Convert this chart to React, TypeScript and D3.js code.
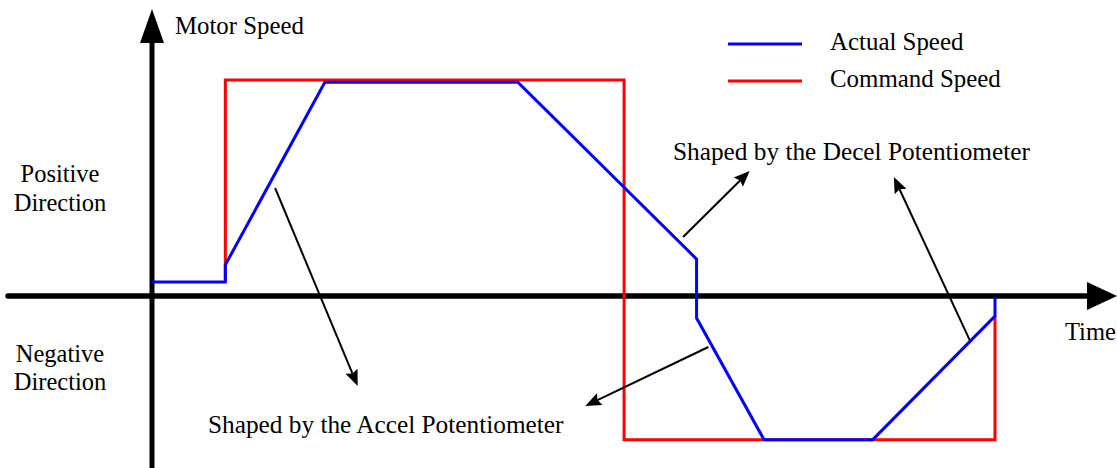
import React from "react";
import * as d3 from "d3";

// Time axis (arbitrary units) and speed (% of command speed)
const actualTime = [0, 8.7, 8.7, 20.5, 43.4, 64.6, 64.6, 72.6, 85.5, 100, 100];
const actualSpeed = [6.5, 6.5, 14.4, 99, 99, 17.1, -10.2, -66.5, -66.5, -9.3, -0.5];
const commandTime = [8.7, 8.7, 56.0, 56.0, 100, 100];
const commandSpeed = [6.5, 100, 100, -66.5, -66.5, -9.3];

const legendLabels = ["Actual Speed", "Command Speed"];
const legendColors = ["#0000ff", "#ff0000"];

// annotation arrows: [fromTime, fromSpeed, toTime, toSpeed]
const accelArrows = [
  [14.6, 50, 24.4, -41.7],
  [66.0, -23.6, 51.4, -50.9],
];
const decelArrows = [
  [63.0, 27.3, 70.9, 57.9],
  [97.0, -20.4, 88.0, 55.1],
];

const W = 1117;
const H = 468;
const FONT = '"Liberation Serif", "Times New Roman", serif';

function arrowHead(x1: number, y1: number, x2: number, y2: number, L: number, hw: number, notch: number) {
  const dx = x2 - x1, dy = y2 - y1;
  const len = Math.hypot(dx, dy);
  const ux = dx / len, uy = dy / len;
  const nx = -uy, ny = ux;
  const bx = x2 - ux * L, by = y2 - uy * L;
  const pts = [
    [x2, y2],
    [bx + nx * hw, by + ny * hw],
    [x2 - ux * (L - notch), y2 - uy * (L - notch)],
    [bx - nx * hw, by - ny * hw],
  ];
  return {
    poly: pts.map((p) => p.join(",")).join(" "),
    ex: x2 - ux * (L - notch),
    ey: y2 - uy * (L - notch),
  };
}

export default function App() {
  const x = d3.scaleLinear().domain([0, 100]).range([152, 995]);
  const y = d3.scaleLinear().domain([0, 100]).range([296, 80]);

  const line = d3
    .line<[number, number]>()
    .x((d) => x(d[0]))
    .y((d) => y(d[1]));

  const actual = actualTime.map((t, i) => [t, actualSpeed[i]] as [number, number]);
  const command = commandTime.map((t, i) => [t, commandSpeed[i]] as [number, number]);

  const x0 = x(0);
  const y0 = y(0);

  const hHead = arrowHead(8, y0, W, y0, 30, 14, 0);
  const vHead = arrowHead(x0, H, x0, 9, 34, 12, 0);

  const annots = [...accelArrows, ...decelArrows].map((a, i) => {
    const sx = x(a[0]), sy = y(a[1]), tx = x(a[2]), ty = y(a[3]);
    const h = arrowHead(sx, sy, tx, ty, 16, 6.5, 2.5);
    return (
      <g key={i}>
        <line x1={sx} y1={sy} x2={h.ex} y2={h.ey} stroke="#000" strokeWidth={2} />
        <polygon points={h.poly} fill="#000" />
      </g>
    );
  });

  return (
    <svg
      width={W}
      height={H}
      style={{ position: "absolute", left: 0, top: 0, background: "#fff" }}
      fontFamily={FONT}
    >
      {/* axes */}
      <line x1={8} y1={y0} x2={hHead.ex} y2={y0} stroke="#000" strokeWidth={5.5} strokeLinecap="round" />
      <polygon points={hHead.poly} fill="#000" />
      <line x1={x0} y1={H + 5} x2={vHead.ex} y2={vHead.ey} stroke="#000" strokeWidth={5} />
      <polygon points={vHead.poly} fill="#000" />

      {/* series */}
      <path d={line(command) || ""} fill="none" stroke="#ff0000" strokeWidth={3} />
      <path d={line(actual) || ""} fill="none" stroke="#0000ff" strokeWidth={3} />

      {/* annotations */}
      {annots}

      {/* legend */}
      {legendLabels.map((lab, i) => (
        <g key={lab}>
          <line x1={728} x2={802} y1={44 + i * 37} y2={44 + i * 37} stroke={legendColors[i]} strokeWidth={3.2} />
          <text x={830} y={50 + i * 37} fontSize={24.9} fill="#000">
            {lab}
          </text>
        </g>
      ))}

      {/* labels */}
      <text x={175} y={34} fontSize={24.8}>Motor Speed</text>
      <text x={60} y={182} fontSize={24.5} textAnchor="middle">Positive</text>
      <text x={60} y={211} fontSize={24.5} textAnchor="middle">Direction</text>
      <text x={60} y={362} fontSize={24.5} textAnchor="middle">Negative</text>
      <text x={60} y={390} fontSize={24.5} textAnchor="middle">Direction</text>
      <text x={1065} y={340} fontSize={24.5}>Time</text>
      <text x={673} y={160} fontSize={25.3}>Shaped by the Decel Potentiometer</text>
      <text x={208} y={433} fontSize={25.3}>Shaped by the Accel Potentiometer</text>
    </svg>
  );
}
